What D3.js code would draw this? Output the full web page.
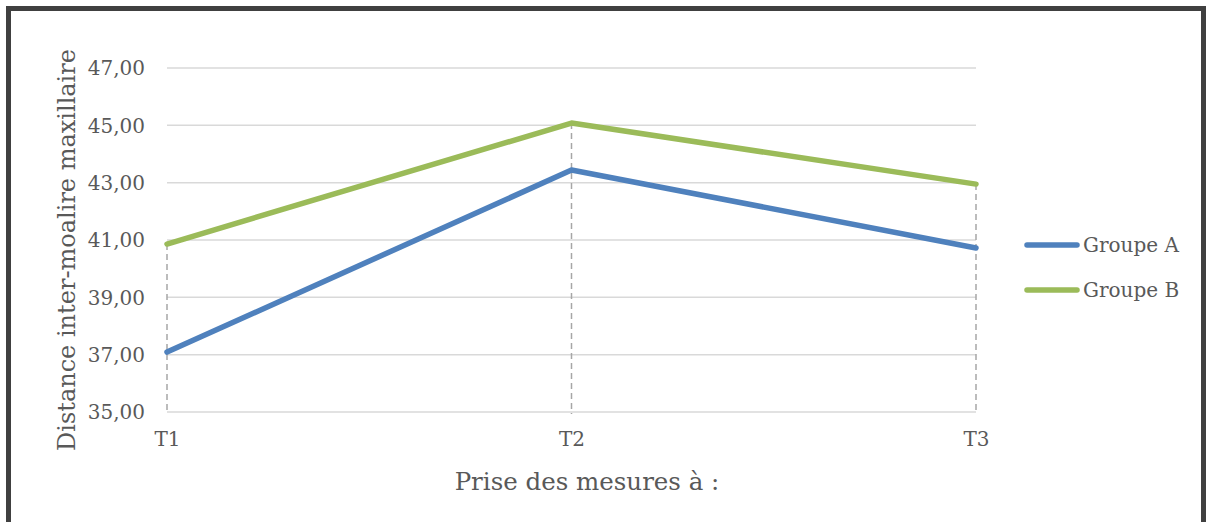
<!DOCTYPE html>
<html><head><meta charset="utf-8">
<script src="https://cdn.jsdelivr.net/npm/d3@7"></script>
<style>body{margin:0;background:#fff}svg{display:block}</style>
</head><body>
<svg id="c" width="1206" height="522"></svg>
<script>
const categories = ["T1","T2","T3"];
const groupA = [37.09, 43.44, 40.72];
const groupB = [40.86, 45.08, 42.95];
const seriesNames = ["Groupe A","Groupe B"];
const yTicks = [35,37,39,41,43,45,47];
const xTitle = "Prise des mesures à :";
const yTitle = "Distance inter-moalire maxillaire";

const font = "'DejaVu Serif', serif";
const svg = d3.select("#c");
svg.append("rect").attr("x",8.5).attr("y",8.5).attr("width",1195).attr("height",530)
  .attr("fill","#fff").attr("stroke","#404040").attr("stroke-width",5);

const x = d3.scalePoint().domain(categories).range([167,976]);
const y = d3.scaleLinear().domain([35,47]).range([412,68]);

const fmt = d => d.toFixed(2).replace(".",",");
svg.append("g").selectAll("line").data(yTicks).join("line")
  .attr("x1",167).attr("x2",976).attr("y1",d=>y(d)).attr("y2",d=>y(d))
  .attr("stroke","#d9d9d9").attr("stroke-width",1.5);
const series = [groupA, groupB];
svg.append("g").selectAll("line").data(categories).join("line")
  .attr("x1",d=>x(d)).attr("x2",d=>x(d))
  .attr("y1",(d,i)=>y(Math.max(groupA[i],groupB[i])))
  .attr("y2",y(35)+2)
  .attr("stroke","#a6a6a6").attr("stroke-width",1.5).attr("stroke-dasharray","6,4");
const yAxis = d3.axisLeft(y).tickValues(yTicks).tickFormat(fmt).tickSize(0).tickPadding(0);
const gy = svg.append("g").attr("transform","translate(145,0)").call(yAxis);
gy.select(".domain").remove();
gy.selectAll("text").attr("font-family",font).attr("font-size",20).attr("fill","#595959").attr("dy","0.34em");
const xAxis = d3.axisBottom(x).tickSize(0).tickPadding(0);
const gx = svg.append("g").attr("transform","translate(0,432)").call(xAxis);
gx.select(".domain").remove();
gx.selectAll("text").attr("font-family",font).attr("font-size",20).attr("fill","#595959").attr("dy","0.71em");

const colors = ["#4f81bd","#9bbb59"];
const line = d3.line().x((d,i)=>x(categories[i])).y(d=>y(d));
series.forEach((s,k)=>{
  svg.append("path").attr("d",line(s)).attr("fill","none").attr("stroke",colors[k])
    .attr("stroke-width",5.5).attr("stroke-linejoin","round").attr("stroke-linecap","round");
});
svg.append("text").attr("x",587).attr("y",490).attr("text-anchor","middle")
  .attr("font-family",font).attr("font-size",24.5).attr("fill","#595959").text(xTitle);
svg.append("text").attr("transform","translate(75,250) rotate(-90)").attr("text-anchor","middle")
  .attr("font-family",font).attr("font-size",24).attr("fill","#595959").text(yTitle);
const lg = svg.append("g").selectAll("g").data(seriesNames).join("g")
  .attr("transform",(d,i)=>`translate(1027,${245+i*45})`);
lg.append("line").attr("x1",0).attr("x2",50).attr("stroke",(d,i)=>colors[i]).attr("stroke-width",5.5).attr("stroke-linecap","round");
lg.append("text").attr("x",56).attr("dy","0.35em").attr("font-family",font).attr("font-size",20).attr("fill","#595959").text(d=>d);
</script>
</body></html>
